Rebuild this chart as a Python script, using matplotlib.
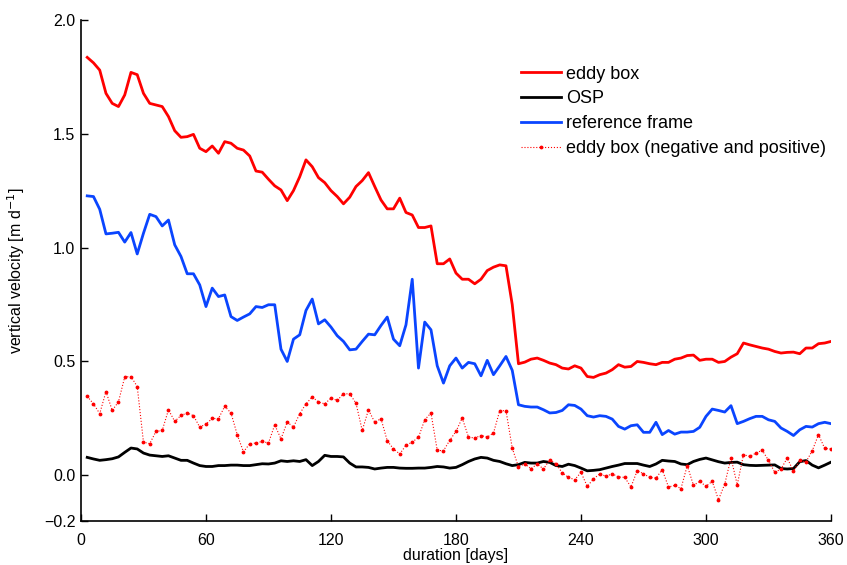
import numpy as np
import matplotlib
matplotlib.use("Agg")
import matplotlib.pyplot as plt

plt.rcParams['font.family'] = ['Liberation Sans', 'DejaVu Sans']

# duration [days], sampled every 3 days
days = np.arange(3, 361, 3)

# eddy box
eddy_box = [
    1.835, 1.811, 1.779, 1.677, 1.633, 1.619, 1.670, 1.769, 1.759, 1.677,
    1.633, 1.626, 1.619, 1.575, 1.513, 1.484, 1.487, 1.497, 1.436, 1.421,
    1.446, 1.414, 1.465, 1.458, 1.436, 1.428, 1.402, 1.336, 1.331, 1.300,
    1.271, 1.253, 1.206, 1.250, 1.311, 1.385, 1.355, 1.307, 1.285, 1.250,
    1.224, 1.192, 1.221, 1.268, 1.294, 1.329, 1.268, 1.209, 1.170, 1.170,
    1.217, 1.154, 1.143, 1.088, 1.088, 1.095, 0.929, 0.929, 0.950, 0.888,
    0.861, 0.861, 0.841, 0.861, 0.899, 0.914, 0.924, 0.920, 0.750, 0.490,
    0.497, 0.510, 0.515, 0.505, 0.493, 0.486, 0.471, 0.467, 0.481, 0.471,
    0.434, 0.430, 0.442, 0.449, 0.464, 0.486, 0.475, 0.478, 0.500, 0.496,
    0.490, 0.486, 0.496, 0.496, 0.510, 0.515, 0.526, 0.528, 0.505, 0.510,
    0.510, 0.496, 0.500, 0.519, 0.534, 0.581, 0.573, 0.566, 0.559, 0.554,
    0.544, 0.537, 0.540, 0.541, 0.534, 0.559, 0.559, 0.578, 0.581, 0.588,
]

# OSP
osp = [
    0.079, 0.072, 0.066, 0.069, 0.073, 0.081, 0.101, 0.120, 0.116, 0.098,
    0.089, 0.086, 0.083, 0.086, 0.076, 0.066, 0.066, 0.054, 0.043, 0.039,
    0.039, 0.043, 0.043, 0.045, 0.045, 0.043, 0.043, 0.047, 0.051, 0.050,
    0.054, 0.064, 0.061, 0.064, 0.061, 0.069, 0.043, 0.061, 0.088, 0.083,
    0.083, 0.081, 0.054, 0.037, 0.037, 0.035, 0.028, 0.032, 0.035, 0.035,
    0.032, 0.031, 0.031, 0.032, 0.032, 0.035, 0.039, 0.037, 0.032, 0.035,
    0.047, 0.061, 0.072, 0.079, 0.076, 0.066, 0.061, 0.051, 0.043, 0.047,
    0.057, 0.054, 0.054, 0.061, 0.057, 0.043, 0.039, 0.049, 0.043, 0.032,
    0.020, 0.022, 0.025, 0.032, 0.039, 0.045, 0.052, 0.052, 0.052, 0.045,
    0.039, 0.050, 0.066, 0.063, 0.061, 0.050, 0.047, 0.061, 0.070, 0.076,
    0.068, 0.060, 0.054, 0.057, 0.058, 0.047, 0.044, 0.043, 0.044, 0.045,
    0.046, 0.030, 0.028, 0.030, 0.060, 0.065, 0.045, 0.033, 0.045, 0.058,
]

# reference frame
reference_frame = [
    1.227, 1.224, 1.168, 1.060, 1.063, 1.067, 1.024, 1.066, 0.972, 1.063,
    1.146, 1.136, 1.095, 1.121, 1.012, 0.961, 0.885, 0.885, 0.836, 0.741,
    0.822, 0.785, 0.792, 0.697, 0.680, 0.695, 0.709, 0.741, 0.737, 0.749,
    0.749, 0.554, 0.500, 0.598, 0.617, 0.724, 0.774, 0.665, 0.683, 0.651,
    0.613, 0.588, 0.551, 0.554, 0.588, 0.620, 0.617, 0.658, 0.695, 0.598,
    0.569, 0.661, 0.861, 0.471, 0.673, 0.639, 0.481, 0.405, 0.481, 0.515,
    0.471, 0.496, 0.490, 0.437, 0.505, 0.442, 0.481, 0.522, 0.461, 0.310,
    0.303, 0.300, 0.300, 0.288, 0.274, 0.276, 0.285, 0.310, 0.307, 0.291,
    0.262, 0.256, 0.262, 0.259, 0.247, 0.215, 0.203, 0.218, 0.222, 0.189,
    0.189, 0.233, 0.179, 0.197, 0.181, 0.190, 0.190, 0.193, 0.211, 0.259,
    0.291, 0.285, 0.278, 0.306, 0.227, 0.237, 0.249, 0.259, 0.259, 0.244,
    0.237, 0.208, 0.193, 0.175, 0.200, 0.215, 0.212, 0.227, 0.233, 0.227,
]

# eddy box (negative and positive)
eddy_box_np = [
    0.347, 0.314, 0.271, 0.368, 0.285, 0.323, 0.432, 0.434, 0.390, 0.146,
    0.139, 0.193, 0.197, 0.288, 0.237, 0.263, 0.274, 0.262, 0.212, 0.225,
    0.250, 0.249, 0.303, 0.274, 0.179, 0.103, 0.139, 0.142, 0.149, 0.142,
    0.222, 0.160, 0.234, 0.212, 0.271, 0.314, 0.344, 0.322, 0.314, 0.339,
    0.329, 0.358, 0.358, 0.317, 0.197, 0.288, 0.233, 0.249, 0.152, 0.116,
    0.094, 0.132, 0.146, 0.167, 0.244, 0.274, 0.110, 0.108, 0.154, 0.193,
    0.252, 0.168, 0.164, 0.175, 0.168, 0.186, 0.284, 0.284, 0.120, 0.037,
    0.051, 0.029, 0.050, 0.028, 0.069, 0.051, 0.011, -0.009, -0.019, 0.013,
    -0.048, -0.016, 0.007, -0.004, 0.007, -0.007, -0.009, -0.051, 0.021, 0.007,
    -0.009, -0.012, 0.025, -0.051, -0.044, -0.058, 0.043, -0.044, -0.026, -0.048,
    -0.026, -0.107, -0.038, 0.076, -0.041, 0.091, 0.083, 0.098, 0.110, 0.066,
    0.013, 0.028, 0.076, 0.018, 0.066, 0.059, 0.108, 0.179, 0.118, 0.116,
]

fig = plt.figure(figsize=(8.47, 5.65), dpi=100)
ax = fig.add_axes([0.0956, 0.078, 0.8855, 0.887])

ax.plot(days, eddy_box, color='#ff0000', lw=2.0, label='eddy box')
ax.plot(days, osp, color='black', lw=2.0, label='OSP')
ax.plot(days, reference_frame, color='#0a45ff', lw=2.0, label='reference frame')
ax.plot(days, eddy_box_np, color='#ff0000', lw=0.8, ls=':', marker='.',
        markersize=3.5, label='eddy box (negative and positive)')

ax.set_xlim(0, 360)
ax.set_ylim(-0.2, 2.0)
ax.set_xticks(np.arange(0, 361, 60))
ax.set_yticks([-0.2, 0.0, 0.5, 1.0, 1.5, 2.0])
ax.set_yticklabels(['\u22120.2', '0.0', '0.5', '1.0', '1.5', '2.0'])
ax.tick_params(direction='in', length=5, width=1, labelsize=11.5)
ax.tick_params(axis='x', pad=9)
ax.tick_params(axis='y', pad=4)

for s in ['top', 'right']:
    ax.spines[s].set_visible(False)
for s in ['left', 'bottom']:
    ax.spines[s].set_linewidth(1.2)

ax.set_xlabel('duration [days]', fontsize=11.5, labelpad=0)
ax.set_ylabel('vertical velocity [m d$^{-1}$]', fontsize=11.5, labelpad=12)

ax.legend(loc='upper left', bbox_to_anchor=(0.577, 0.923), frameon=False,
          fontsize=13, handlelength=2.2, handletextpad=0.28, labelspacing=0.43,
          borderaxespad=0)

fig.savefig('out.png', dpi=100)
